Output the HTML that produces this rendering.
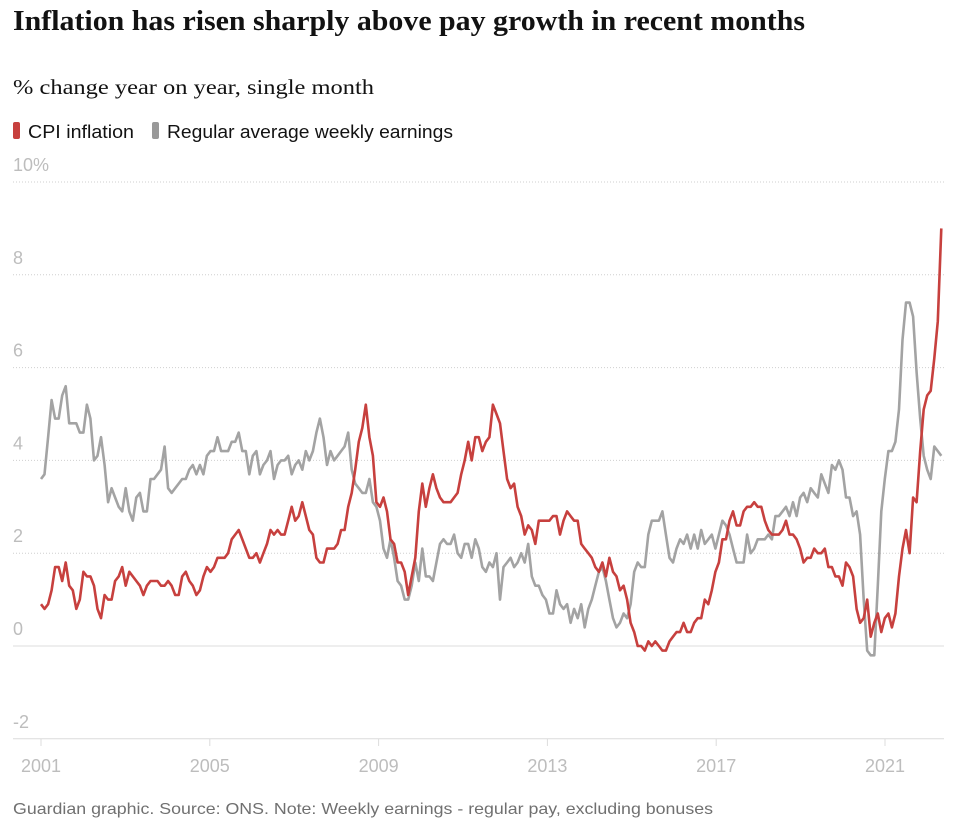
<!DOCTYPE html>
<html><head><meta charset="utf-8"><style>
body{margin:0;background:#fff;width:962px;height:826px;overflow:hidden}
svg text{font-family:"Liberation Sans",sans-serif}
</style></head><body>
<svg width="962" height="826">
<text x="13" y="30" font-weight="bold" font-size="28" fill="#121212" textLength="792" lengthAdjust="spacingAndGlyphs" style="font-family:'Liberation Serif',serif">Inflation has risen sharply above pay growth in recent months</text>
<text x="13" y="94" font-size="21" fill="#121212" textLength="361" lengthAdjust="spacingAndGlyphs" style="font-family:'Liberation Serif',serif">% change year on year, single month</text>
<g>
<rect x="13" y="122" width="7" height="17" rx="2" fill="#c7403e"/>
<text x="28" y="138" font-size="18" fill="#121212" textLength="106" lengthAdjust="spacingAndGlyphs">CPI inflation</text>
<rect x="152" y="122" width="7" height="17" rx="2" fill="#999"/>
<text x="167" y="138" font-size="18" fill="#121212" textLength="286" lengthAdjust="spacingAndGlyphs">Regular average weekly earnings</text>
</g>
<g id="grid"></g><g id="xaxis"></g><g id="lines"></g>
<text x="13" y="814" font-size="16" fill="#707070" textLength="700" lengthAdjust="spacingAndGlyphs">Guardian graphic. Source: ONS. Note: Weekly earnings - regular pay, excluding bonuses</text>
</svg>
<script>
const yTicks=[-2,0,2,4,6,8,10];
const yTickLabels=["-2","0","2","4","6","8","10%"];
const xTicks=[2001,2005,2009,2013,2017,2021];
const startYear=2001;
const cpi=[0.9,0.8,0.9,1.2,1.7,1.7,1.4,1.8,1.3,1.2,0.8,1.0,
1.6,1.5,1.5,1.3,0.8,0.6,1.1,1.0,1.0,1.4,1.5,1.7,
1.3,1.6,1.5,1.4,1.3,1.1,1.3,1.4,1.4,1.4,1.3,1.3,
1.4,1.3,1.1,1.1,1.5,1.6,1.4,1.3,1.1,1.2,1.5,1.7,
1.6,1.7,1.9,1.9,1.9,2.0,2.3,2.4,2.5,2.3,2.1,1.9,
1.9,2.0,1.8,2.0,2.2,2.5,2.4,2.5,2.4,2.4,2.7,3.0,
2.7,2.8,3.1,2.8,2.5,2.4,1.9,1.8,1.8,2.1,2.1,2.1,
2.2,2.5,2.5,3.0,3.3,3.8,4.4,4.7,5.2,4.5,4.1,3.1,
3.0,3.2,2.9,2.3,2.2,1.8,1.8,1.6,1.1,1.5,1.9,2.9,
3.5,3.0,3.4,3.7,3.4,3.2,3.1,3.1,3.1,3.2,3.3,3.7,
4.0,4.4,4.0,4.5,4.5,4.2,4.4,4.5,5.2,5.0,4.8,4.2,
3.6,3.4,3.5,3.0,2.8,2.4,2.6,2.5,2.2,2.7,2.7,2.7,
2.7,2.8,2.8,2.4,2.7,2.9,2.8,2.7,2.7,2.2,2.1,2.0,
1.9,1.7,1.6,1.8,1.5,1.9,1.6,1.5,1.2,1.3,1.0,0.5,
0.3,0.0,0.0,-0.1,0.1,0.0,0.1,0.0,-0.1,-0.1,0.1,0.2,
0.3,0.3,0.5,0.3,0.3,0.5,0.6,0.6,1.0,0.9,1.2,1.6,
1.8,2.3,2.3,2.7,2.9,2.6,2.6,2.9,3.0,3.0,3.1,3.0,
3.0,2.7,2.5,2.4,2.4,2.4,2.5,2.7,2.4,2.4,2.3,2.1,
1.8,1.9,1.9,2.1,2.0,2.0,2.1,1.7,1.7,1.5,1.5,1.3,
1.8,1.7,1.5,0.8,0.5,0.6,1.0,0.2,0.5,0.7,0.3,0.6,
0.7,0.4,0.7,1.5,2.1,2.5,2.0,3.2,3.1,4.2,5.1,5.4,
5.5,6.2,7.0,9.0];
const earnings=[3.6,3.7,4.5,5.3,4.9,4.9,5.4,5.6,4.8,4.8,4.8,4.6,
4.6,5.2,4.9,4.0,4.1,4.5,3.9,3.1,3.4,3.2,3.0,2.9,
3.4,2.9,2.7,3.2,3.3,2.9,2.9,3.6,3.6,3.7,3.8,4.3,
3.4,3.3,3.4,3.5,3.6,3.6,3.8,3.9,3.7,3.9,3.7,4.1,
4.2,4.2,4.5,4.2,4.2,4.2,4.4,4.4,4.6,4.2,4.2,3.7,
4.1,4.2,3.7,3.9,4.0,4.2,3.6,3.9,4.0,4.0,4.1,3.7,
3.9,4.0,3.8,4.2,4.0,4.2,4.6,4.9,4.5,3.9,4.2,4.0,
4.1,4.2,4.3,4.6,3.8,3.5,3.4,3.3,3.3,3.6,3.1,3.0,
2.7,2.1,1.9,2.3,1.9,1.4,1.3,1.0,1.0,1.3,1.8,1.4,
2.1,1.5,1.5,1.4,1.8,2.2,2.3,2.2,2.2,2.4,2.0,1.9,
2.2,2.2,1.9,2.3,2.1,1.7,1.6,1.8,1.7,2.0,1.0,1.7,
1.8,1.9,1.7,1.8,2.0,1.8,2.2,1.5,1.3,1.3,1.1,1.0,
0.7,0.7,1.2,0.9,0.8,0.9,0.5,0.8,0.6,0.9,0.4,0.8,
1.0,1.3,1.6,1.7,1.4,1.0,0.6,0.4,0.5,0.7,0.6,0.9,
1.6,1.8,1.7,1.7,2.4,2.7,2.7,2.7,2.9,2.4,1.9,1.8,
2.1,2.3,2.2,2.4,2.1,2.4,2.1,2.5,2.2,2.3,2.4,2.1,
2.4,2.7,2.6,2.4,2.1,1.8,1.8,1.8,2.4,2.0,2.1,2.3,
2.3,2.3,2.4,2.3,2.8,2.8,2.9,3.0,2.8,3.1,2.8,3.2,
3.3,3.1,3.4,3.3,3.2,3.7,3.5,3.3,3.9,3.8,4.0,3.8,
3.2,3.2,2.8,2.9,2.4,1.0,-0.1,-0.2,-0.2,1.3,2.9,3.6,
4.2,4.2,4.4,5.1,6.6,7.4,7.4,7.1,5.9,4.9,4.1,3.8,
3.6,4.3,4.2,4.1];
const NS="http://www.w3.org/2000/svg";
function xs(yr){return 41+(yr-2001)*42.2;}
function ys(v){return 646-v*46.4;}
function mk(t,a,p){const e=document.createElementNS(NS,t);for(const k in a)e.setAttribute(k,a[k]);p.appendChild(e);return e;}
const grid=document.getElementById('grid');
yTicks.forEach((v,i)=>{
  const y=ys(v);
  const l=mk('line',{x1:13,x2:944,y1:y,y2:y,stroke:(v===0||v===-2)?'#dcdcdc':'#cfcfcf','stroke-dasharray':(v===0||v===-2)?'':'1,2'},grid);
  
  
  const t=mk('text',{x:13,y:y-11,'font-size':18,fill:'#bdbdbd'},grid);
  t.textContent=yTickLabels[i];
  
  
});
const xa=document.getElementById('xaxis');
xTicks.forEach(yr=>{
  const x=xs(yr);
  const tk=mk('line',{x1:x,x2:x,y1:739,y2:746,stroke:'#dcdcdc'},xa);
  
  
  const t=mk('text',{x:x,y:772,'font-size':18,fill:'#bdbdbd','text-anchor':'middle'},xa);
  t.textContent=yr;
  
  
});
const lines=document.getElementById('lines');
function path(arr,color,name){
  const d=arr.map((v,i)=>(i?'L':'M')+xs(startYear+i/12*1.004).toFixed(1)+','+ys(v).toFixed(1)).join('');
  const p=mk('path',{d:d,fill:'none',stroke:color,'stroke-width':2.6,'stroke-linejoin':'round'},lines);
  
  
}
path(earnings,'#a3a3a3','earnings-line');
path(cpi,'#c7403e','cpi-line');
</script>
</body></html>
